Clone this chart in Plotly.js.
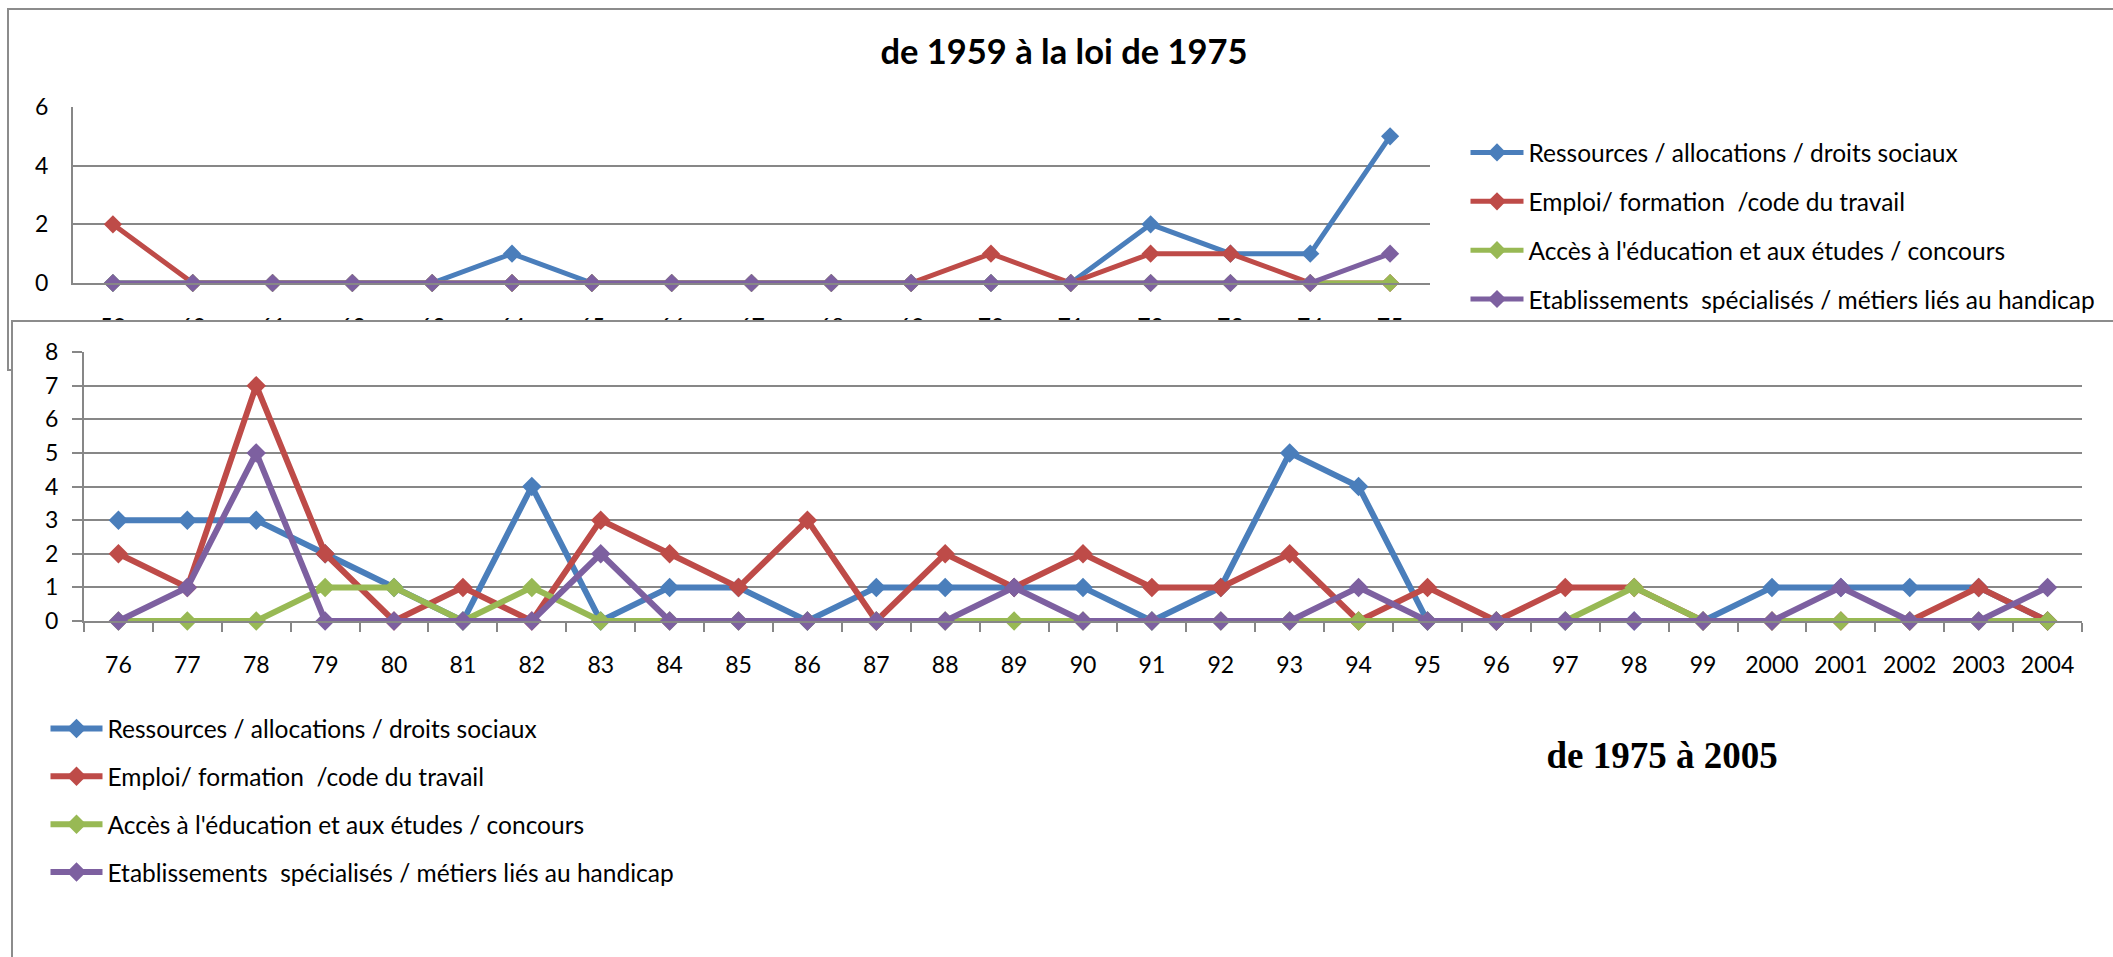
<!DOCTYPE html>
<html>
<head>
<meta charset="utf-8">
<script src="https://cdn.plot.ly/plotly-3.0.1.min.js"></script>
<style>
html,body{margin:0;padding:0;background:#fff;}
body{width:2113px;height:957px;overflow:hidden;position:relative;}
#frame1{position:absolute;left:7px;top:8px;width:2300px;height:363px;border:2px solid #8c8c8c;box-sizing:border-box;z-index:1;background:#fff;}
#plot1{position:absolute;left:0;top:0;width:2113px;height:957px;z-index:2;}
#frame2{position:absolute;left:11px;top:320px;width:2300px;height:800px;border:2px solid #8c8c8c;box-sizing:border-box;z-index:3;background:#fff;}
#plot2{position:absolute;left:0;top:0;width:2113px;height:957px;z-index:4;}
</style>
</head>
<body>
<div id="frame1"></div>
<div id="plot1"></div>
<div id="frame2"></div>
<div id="plot2"></div>
<script>
// ---- data ----
const seriesNames = [
  'Ressources / allocations / droits sociaux',
  'Emploi/ formation \u00a0/code du travail',
  "Accès à l'éducation et aux études / concours",
  'Etablissements \u00a0spécialisés / métiers liés au handicap'
];
const seriesColors = ['#4A7EBB', '#BE4B48', '#98B954', '#7D60A0'];

// 1959 - 1975
const years1 = ['59','60','61','62','63','64','65','66','67','68','69','70','71','72','73','74','75'];
const ressources1 = [0,0,0,0,0,1,0,0,0,0,0,0,0,2,1,1,5];
const emploi1     = [2,0,0,0,0,0,0,0,0,0,0,1,0,1,1,0,0];
const education1  = [0,0,0,0,0,0,0,0,0,0,0,0,0,0,0,0,0];
const etablis1    = [0,0,0,0,0,0,0,0,0,0,0,0,0,0,0,0,1];

// 1976 - 2004
const years2 = ['76','77','78','79','80','81','82','83','84','85','86','87','88','89','90','91','92','93','94','95','96','97','98','99','2000','2001','2002','2003','2004'];
const ressources2 = [3,3,3,2,1,0,4,0,1,1,0,1,1,1,1,0,1,5,4,0,0,0,0,0,1,1,1,1,0];
const emploi2     = [2,1,7,2,0,1,0,3,2,1,3,0,2,1,2,1,1,2,0,1,0,1,1,0,0,0,0,1,0];
const education2  = [0,0,0,1,1,0,1,0,0,0,0,0,0,0,0,0,0,0,0,0,0,0,1,0,0,0,0,0,0];
const etablis2    = [0,1,5,0,0,0,0,2,0,0,0,0,0,1,0,0,0,0,1,0,0,0,0,0,0,1,0,0,1];

const W = 2113, H = 957;
const gridColor = '#878787';
const tickFont = {family: 'Lato, sans-serif', size: 23, color: '#000'};
const legendFont = {family: 'Lato, sans-serif', size: 24.5, color: '#000'};

function makeTraces(x, ys, lw, ms) {
  return ys.map((y, i) => ({
    type: 'scatter', mode: 'lines+markers', x: x, y: y,
    name: seriesNames[i], legendgroup: 'g' + i,
    line: {color: seriesColors[i], width: lw},
    marker: {symbol: 'diamond', size: ms, color: seriesColors[i]},
    cliponaxis: false, hoverinfo: 'skip'
  }));
}

// ---- chart 1 ----
const m1 = {l: 73, r: 683, t: 107, b: 674, pad: 0, autoexpand: false};
const layout1 = {
  width: W, height: H, margin: m1,
  paper_bgcolor: 'rgba(0,0,0,0)', plot_bgcolor: 'rgba(0,0,0,0)',
  showlegend: true,
  title: {text: 'de 1959 à la loi de 1975', font: {family: 'Lato, sans-serif', size: 34.5, weight: 700, color: '#000'},
          xref: 'container', yref: 'container', x: 1064 / W, xanchor: 'center', y: 1 - 52 / H, yanchor: 'middle'},
  xaxis: {type: 'category', range: [-0.5, years1.length - 0.5], showgrid: false, zeroline: false, showline: true,
          linecolor: gridColor, linewidth: 2, ticks: '', tickfont: tickFont, ticklabelstandoff: 22,
          fixedrange: true, automargin: false},
  yaxis: {range: [0, 6], dtick: 2, showgrid: true, gridcolor: gridColor, gridwidth: 2, zeroline: false,
          showline: true, linecolor: gridColor, linewidth: 2, ticks: '', tickfont: tickFont,
          ticklabelstandoff: 18, fixedrange: true, automargin: false},
  legend: {xref: 'container', yref: 'container', x: 1465.5 / W, xanchor: 'left', y: 1 - 130 / H, yanchor: 'top',
           font: legendFont, itemwidth: 53, tracegroupgap: 14, traceorder: 'grouped', bgcolor: 'rgba(0,0,0,0)'}
};
Plotly.newPlot('plot1', makeTraces(years1, [ressources1, emploi1, education1, etablis1], 5, 14), layout1,
  {staticPlot: true, displayModeBar: false});

// ---- chart 2 ----
const m2 = {l: 84, r: 31, t: 352, b: 336, pad: 0, autoexpand: false};
const layout2 = {
  width: W, height: H, margin: m2,
  paper_bgcolor: 'rgba(0,0,0,0)', plot_bgcolor: 'rgba(0,0,0,0)',
  showlegend: true,
  title: {text: 'de 1975 à 2005', font: {family: 'Liberation Serif, serif', size: 37, weight: 700, color: '#000'},
          xref: 'container', yref: 'container', x: 1662 / W, xanchor: 'center', y: 1 - 755 / H, yanchor: 'middle'},
  xaxis: {type: 'category', range: [-0.5, years2.length - 0.5], showgrid: false, zeroline: false, showline: true,
          linecolor: gridColor, linewidth: 2, ticks: 'outside', tickson: 'boundaries', ticklen: 9, tickwidth: 2,
          tickcolor: gridColor, tickfont: tickFont, ticklabelstandoff: 22, fixedrange: true, automargin: false},
  yaxis: {range: [0, 8], dtick: 1, showgrid: true, gridcolor: gridColor, gridwidth: 2, zeroline: false,
          showline: true, linecolor: gridColor, linewidth: 2, ticks: 'outside', ticklen: 10, tickwidth: 2, tickcolor: gridColor,
          tickfont: tickFont, ticklabelstandoff: 9, fixedrange: true, automargin: false},
  legend: {xref: 'container', yref: 'container', x: 45.5 / W, xanchor: 'left', y: 1 - 706 / H, yanchor: 'top',
           font: legendFont, itemwidth: 52, tracegroupgap: 13, traceorder: 'grouped', bgcolor: 'rgba(0,0,0,0)'}
};
Plotly.newPlot('plot2', makeTraces(years2, [ressources2, emploi2, education2, etablis2], 6, 15), layout2,
  {staticPlot: true, displayModeBar: false});
</script>
</body>
</html>
